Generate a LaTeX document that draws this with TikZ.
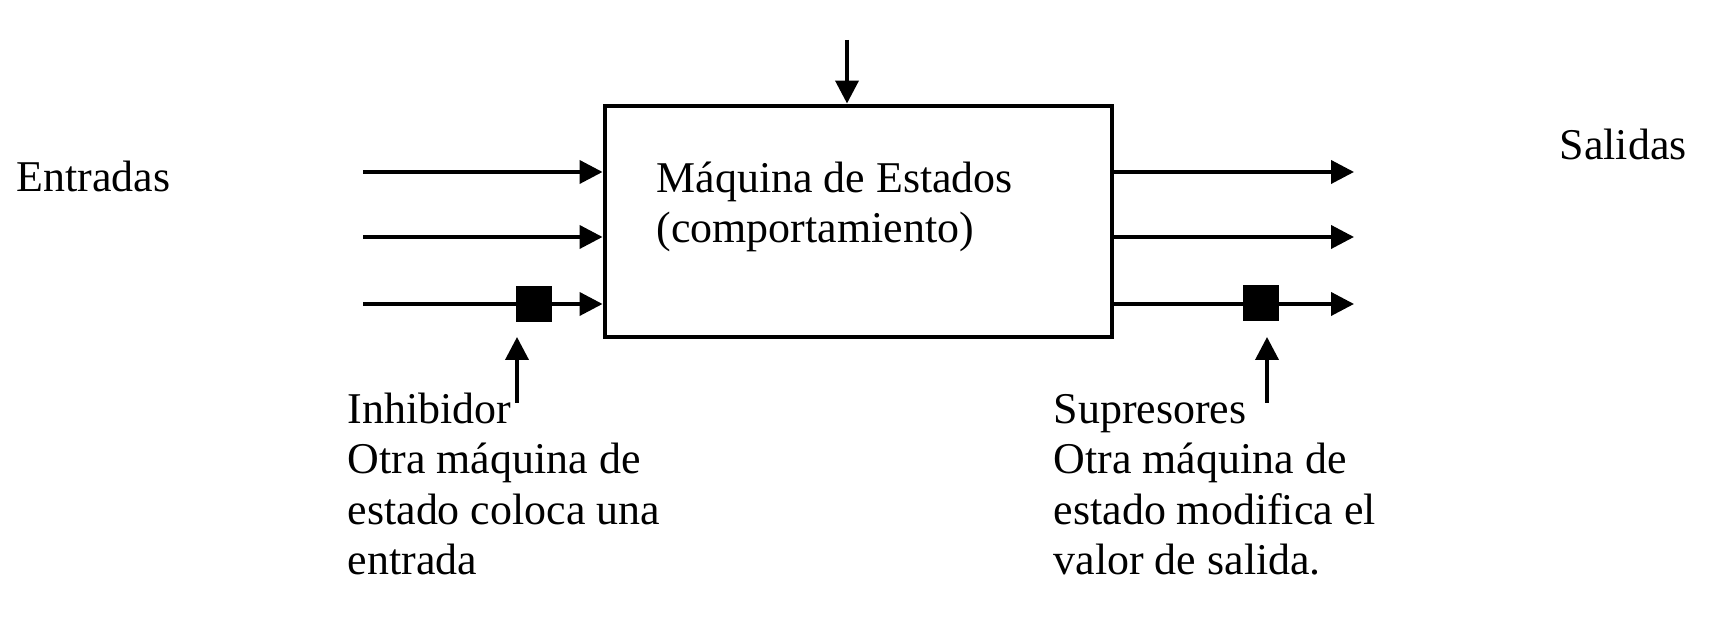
\documentclass[tikz,border=0pt]{standalone}
\usepackage{fontspec}
\setmainfont{Liberation Serif}
\usetikzlibrary{positioning, arrows.meta}
\tikzset{
    machine/.style = {draw, line width=1.4pt, minimum width=5.07cm,
                      minimum height=2.31cm, inner sep=0pt},
    blocker/.style = {fill=black, minimum size=0.36cm, inner sep=0pt},
    arrow/.style = {-{Triangle[length=0.23cm, width=0.23cm]}, line width=1.1pt},
    txt/.style = {anchor=base west, inner sep=0pt, align=left,
                  font=\fontsize{12.5}{14.4}\selectfont},
}

\begin{document}
\begin{tikzpicture}
        \useasboundingbox (0,0) rectangle (17.10,-6.19);
        % state machine
        \node[machine] (sm) at (8.585,-2.215) {};
        \node[txt] (smtext) at (6.56,-2.43) {Máquina de Estados\\(comportamiento)};
        % top input
        \coordinate (top) at (8.47,-0.40);
        \draw[arrow] (top) -- (top |- sm.north);
        % inputs
        \node[txt] (entradas) at (0.16,-1.92) {Entradas};
        \coordinate (in1) at (3.63,-1.72);
        \coordinate (in2) at (3.63,-2.37);
        \coordinate (in3) at (3.63,-3.04);
        \draw[arrow] (in1) -- (in1 -| sm.west);
        \draw[arrow] (in2) -- (in2 -| sm.west);
        \draw[arrow] (in3) -- (in3 -| sm.west);
        % outputs
        \node[txt] (salidas) at (15.59,-1.60) {Salidas};
        \coordinate (out1) at (13.54,-1.72);
        \coordinate (out2) at (13.54,-2.37);
        \coordinate (out3) at (13.54,-3.04);
        \draw[arrow] (out1 -| sm.east) -- (out1);
        \draw[arrow] (out2 -| sm.east) -- (out2);
        \draw[arrow] (out3 -| sm.east) -- (out3);
        % inhibitor
        \node[blocker] (inhbox) at (5.34,-3.04) {};
        \coordinate (inhfoot) at (5.17,-4.03);
        \draw[arrow] (inhfoot) -- (5.17,-3.37);
        \node[txt] (inhtext) at (3.47,-5.75) {Inhibidor\\Otra máquina de\\estado coloca una\\entrada};
        % suppressor
        \node[blocker] (supbox) at (12.61,-3.03) {};
        \coordinate (supfoot) at (12.67,-4.03);
        \draw[arrow] (supfoot) -- (12.67,-3.37);
        \node[txt] (suptext) at (10.53,-5.75) {Supresores\\Otra máquina de\\estado modifica el\\valor de salida.};
      \end{tikzpicture}
\end{document}
